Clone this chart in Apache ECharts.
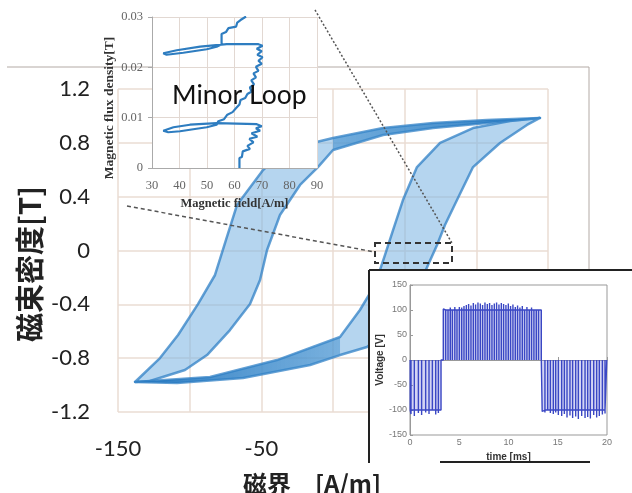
<!DOCTYPE html>
<html>
<head>
<meta charset="utf-8">
<script src="https://cdn.jsdelivr.net/npm/echarts@6/dist/echarts.min.js"></script>
<style>
  html, body { margin: 0; padding: 0; background: #fff; }
  #chart { width: 632px; height: 493px; }
</style>
</head>
<body>
<div id="chart"></div>
<script>
// main B-H loop, outline of the descending band (H [A/m], B [T])
const descOuter = [[144.4,0.985],[107.4,0.970],[69.8,0.947],[34.9,0.910],[0,0.836],[-23.0,0.776],[-33.5,0.747],
  [-48.8,0.598],[-67.0,0.338],[-74.7,0.078],[-82.3,-0.182],[-94.2,-0.398],[-108.1,-0.628],[-120.7,-0.799],[-138.1,-0.977]];
const descInner = [[-127.7,-0.970],[-103.3,-0.888],[-87.9,-0.777],[-71.9,-0.591],[-57.9,-0.398],[-50.9,-0.219],
  [-46.0,0.004],[-37.0,0.264],[-23.0,0.487],[-10.5,0.620],[0,0.747],[34.9,0.858],[69.8,0.910],[107.4,0.947]];
// ascending band
const ascOuter = [[-138.1,-0.977],[-108.8,-0.985],[-62.8,-0.948],[-16.0,-0.851],[4.9,-0.777],[23.7,-0.717],[43.3,-0.554],
  [57.2,-0.331],[66.3,-0.108],[72.6,0.041],[78.1,0.189],[86.5,0.375],[97.7,0.620],[116.5,0.799],[135.3,0.933],[144.4,0.985]];
const ascInner = [[123.5,0.962],[97.7,0.910],[74.7,0.799],[58.6,0.620],[48.8,0.375],[41.9,0.152],[36.3,-0.033],
  [29.3,-0.256],[18.8,-0.442],[4.9,-0.643],[-39.1,-0.814],[-85.8,-0.940]];

// minor loop inset (H, B)
const minorLoop = [[61.8,0],[61.8,0.0020],[62.7,0.0022],[63.0,0.0033],[65.6,0.0038],[64.7,0.0044],[66.9,0.0051],
  [65.4,0.0058],[68.3,0.0062],[66.2,0.0069],[69.3,0.0074],[67.8,0.0079],[69.9,0.0083],[68.1,0.0087],[53.5,0.0089],
  [43.8,0.0086],[37.8,0.0081],[34.1,0.0074],[35.9,0.0071],[40.2,0.0073],[45.0,0.0077],[49.9,0.0081],[53.5,0.0086],
  [54.1,0.0093],[56.2,0.0097],[57.4,0.0106],[59.3,0.0111],[60.6,0.0119],[61.8,0.0126],[62.2,0.0135],[63.9,0.0139],
  [64.7,0.0147],[66.2,0.0152],[65.6,0.0160],[67.1,0.0166],[66.1,0.0174],[67.8,0.0180],[66.9,0.0188],[68.7,0.0193],
  [67.8,0.0201],[69.9,0.0207],[68.7,0.0213],[70.2,0.0220],[68.3,0.0225],[69.9,0.0232],[68.1,0.0237],[70.2,0.0243],
  [68.7,0.0246],[57.2,0.0246],[47.5,0.0241],[39.0,0.0234],[34.1,0.0228],[35.3,0.0225],[41.4,0.0229],[49.9,0.0236],
  [53.5,0.0241],[55.3,0.0246],[55.3,0.0266],[56.9,0.0270],[57.8,0.0278],[60.6,0.0281],[61.0,0.0289],[62.2,0.0294],[64.2,0.0301]];

// voltage inset: switching instants [ms] and spike values [V] per half period
const negTimesA = [0.02, 0.10, 0.44, 0.85, 1.18, 1.59, 1.93, 2.27, 2.61, 2.88, 3.15];
const negPeaksA = [-100, -108, -112, -106, -110, -105, -108, -104, -109, -106, -104];
const posTimes = [3.38, 3.62, 3.86, 4.09, 4.30, 4.55, 4.77, 5.01, 5.25, 5.48, 5.72, 5.95, 6.19, 6.43, 6.66, 6.90,
  7.14, 7.37, 7.61, 7.85, 8.08, 8.32, 8.56, 8.79, 9.03, 9.27, 9.50, 9.74, 9.98, 10.21, 10.45, 10.69, 10.92, 11.16,
  11.40, 11.63, 11.87, 12.11, 12.34, 12.58, 12.82, 13.05, 13.33];
const posPeaks = [102, 104, 103, 105, 104, 106, 104, 106, 105, 108, 110, 112, 109, 114, 111, 115, 113, 110, 115, 112,
  114, 110, 113, 115, 111, 114, 112, 110, 113, 108, 111, 106, 109, 105, 108, 104, 106, 103, 105, 102, 104, 101, 103];
const negTimesB = [13.42, 13.70, 13.98, 14.25, 14.55, 14.79, 15.06, 15.40, 15.67, 15.94, 16.24, 16.51, 16.82, 17.09,
  17.43, 17.77, 18.04, 18.31, 18.65, 18.95, 19.22, 19.53, 19.80, 19.98];
const negPeaksB = [-103, -105, -104, -106, -108, -105, -110, -112, -108, -115, -111, -116, -113, -118, -112, -116,
  -114, -117, -110, -115, -112, -109, -107, -104];

function pulses(times, peaks, level) {
  let pts = [];
  times.forEach((t, i) => {
    if (i === 0) pts.push([t, 0], [t, peaks[i]], [t, level]);
    else if (i === times.length - 1) pts.push([t, level], [t, peaks[i]], [t, 0]);
    else pts.push([t, level], [t, peaks[i]], [t, 0], [t, level]);
  });
  return pts;
}
const voltage = pulses(negTimesA, negPeaksA, -100)
  .concat(pulses(posTimes, posPeaks, 100))
  .concat(pulses(negTimesB, negPeaksB, -100));

// wide band light, the narrow saturated branch drawn darker on top
function band(pts, thin, darkAtRight) {
  return {
    type: 'custom', xAxisIndex: 0, yAxisIndex: 0, z: 2, silent: true, data: [0],
    renderItem: (params, api) => {
      const dark = new echarts.graphic.LinearGradient(0, 0, 1, 0, darkAtRight
        ? [{ offset: 0, color: 'rgba(60,140,205,0.55)' }, { offset: 1, color: 'rgba(36,118,190,0.95)' }]
        : [{ offset: 0, color: 'rgba(36,118,190,0.95)' }, { offset: 1, color: 'rgba(60,140,205,0.5)' }]);
      return {
        type: 'group',
        children: [
          { type: 'polygon', shape: { points: pts.map(p => api.coord(p)) },
            style: { fill: 'rgba(128,183,228,0.58)', stroke: 'rgba(48,128,198,0.75)', lineWidth: 2.5, lineJoin: 'round' } },
          { type: 'polygon', shape: { points: thin.map(p => api.coord(p)) },
            style: { fill: dark, stroke: 'none' } }
        ]
      };
    }
  };
}

const myChart = echarts.init(document.getElementById('chart'));
const grid0 = '#eadcd3';
let option = {
  animation: false,
  grid: [
    { left: 118, top: 89, width: 430, height: 323, z: 0 },
    { left: 152, top: 17, width: 165, height: 151, z: 10 },
    { left: 410, top: 285, width: 197, height: 150, show: true, backgroundColor: '#fff', borderColor: '#999', borderWidth: 1, z: 10 }
  ],
  xAxis: [
    {
      gridIndex: 0, type: 'value', min: -150, max: 150, interval: 50,
      axisLine: { show: false }, axisTick: { show: false },
      splitLine: { lineStyle: { color: grid0, width: 1.5 } },
      axisLabel: { margin: 26, fontSize: 22, color: '#222', fontFamily: 'Lato',
        formatter: v => ((v + 150) % 100 === 0 ? String(v) : '') }
    },
    {
      gridIndex: 1, type: 'value', min: 30, max: 90, interval: 10, z: 11,
      name: 'Magnetic field[A/m]', nameLocation: 'middle', nameGap: 29,
      nameTextStyle: { fontFamily: 'Liberation Serif', fontWeight: 'bold', fontSize: 12.5, color: '#333' },
      axisLine: { lineStyle: { color: '#aaa' } }, axisTick: { show: false },
      splitLine: { lineStyle: { color: '#e2d8d2' } },
      axisLabel: { margin: 11, fontSize: 12.5, color: '#666', fontFamily: 'Liberation Serif' }
    },
    {
      gridIndex: 2, type: 'value', min: 0, max: 20, interval: 5, z: 11,
      name: 'time [ms]', nameLocation: 'middle', nameGap: 17,
      nameTextStyle: { fontFamily: 'Liberation Sans', fontWeight: 'bold', fontSize: 10, color: '#333' },
      axisLine: { lineStyle: { color: '#999' } }, axisTick: { inside: true, length: 3, lineStyle: { color: '#999' } },
      splitLine: { show: false },
      axisLabel: { margin: 3, fontSize: 9, color: '#777', fontFamily: 'Liberation Sans' }
    }
  ],
  yAxis: [
    {
      gridIndex: 0, type: 'value', min: -1.2, max: 1.2, interval: 0.4,
      axisLine: { show: false }, axisTick: { show: false },
      splitLine: { lineStyle: { color: grid0, width: 1.5 } },
      axisLabel: { margin: 28, fontSize: 22, color: '#222', fontFamily: 'Lato',
        formatter: v => String(Number(v.toFixed(1))) }
    },
    {
      gridIndex: 1, type: 'value', min: 0, max: 0.03, interval: 0.01, z: 11,
      axisLine: { show: true, lineStyle: { color: '#aaa' } }, axisTick: { show: true, length: 4, lineStyle: { color: '#aaa' } },
      splitLine: { lineStyle: { color: '#e2d8d2' } },
      axisLabel: { margin: 9, fontSize: 12.5, color: '#666', fontFamily: 'Liberation Serif',
        formatter: v => (v === 0 ? '0' : v.toFixed(2)) }
    },
    {
      gridIndex: 2, type: 'value', min: -150, max: 150, interval: 50, z: 11,
      name: 'Voltage [V]', nameLocation: 'middle', nameGap: 25, nameRotate: 90,
      nameTextStyle: { fontFamily: 'Liberation Sans', fontWeight: 'bold', fontSize: 10, color: '#333' },
      axisLine: { show: true, lineStyle: { color: '#999' } }, axisTick: { inside: true, length: 3, lineStyle: { color: '#999' } },
      splitLine: { show: false },
      axisLabel: { margin: 3, fontSize: 9, color: '#777', fontFamily: 'Liberation Sans' }
    }
  ],
  graphic: [
    // chart frame of the main plot
    { type: 'line', z: 1, shape: { x1: 7, y1: 67, x2: 589, y2: 67 }, style: { stroke: '#b3aaa5', lineWidth: 1 } },
    { type: 'line', z: 1, shape: { x1: 589, y1: 67, x2: 589, y2: 272 }, style: { stroke: '#b3aaa5', lineWidth: 1 } },
    // axis titles of the main plot
    { type: 'text', z: 3, x: 30, y: 264, rotation: Math.PI / 2,
      style: { text: '磁束密度[T]', font: 'bold 29px "Noto Sans CJK JP"', fill: '#222', align: 'center', verticalAlign: 'middle' } },
    { type: 'text', z: 3, x: 312, y: 484,
      style: { text: '磁界　[A/m]', font: 'bold 24px "Noto Sans CJK JP"', fill: '#222', align: 'center', verticalAlign: 'middle' } },
    // minor loop inset background and its y title
    { type: 'rect', z: 5, shape: { x: 152, y: 17, width: 165, height: 151 }, style: { fill: '#fff' } },
    { type: 'text', z: 30, x: 110, y: 108, rotation: Math.PI / 2,
      style: { text: 'Magnetic flux density[T]', font: 'bold 13.5px "Liberation Serif"', fill: '#333', align: 'center', verticalAlign: 'middle' } },
    // voltage inset panel
    { type: 'rect', z: 8, shape: { x: 368, y: 270, width: 264, height: 193 }, style: { fill: '#fff' } },
    { type: 'line', z: 20, shape: { x1: 369, y1: 270, x2: 632, y2: 270 }, style: { stroke: '#222', lineWidth: 2 } },
    { type: 'line', z: 20, shape: { x1: 369, y1: 270, x2: 369, y2: 463 }, style: { stroke: '#222', lineWidth: 2 } },
    { type: 'line', z: 20, shape: { x1: 440, y1: 462, x2: 590, y2: 462 }, style: { stroke: '#222', lineWidth: 2 } },
    // zoom markers
    { type: 'rect', z: 20, shape: { x: 375, y: 243, width: 77, height: 20 },
      style: { fill: 'none', stroke: '#333', lineWidth: 2, lineDash: [6, 4] } },
    { type: 'line', z: 20, shape: { x1: 315, y1: 10, x2: 452, y2: 243 }, style: { stroke: '#555', lineWidth: 1.5, lineDash: [2, 2] } },
    { type: 'line', z: 20, shape: { x1: 127, y1: 206, x2: 375, y2: 252 }, style: { stroke: '#555', lineWidth: 1.5, lineDash: [4, 3] } },
    // label in minor loop inset
    { type: 'text', z: 30, x: 172, y: 95,
      style: { text: 'Minor Loop', font: '26.5px Lato', fill: '#111', align: 'left', verticalAlign: 'middle' } }
  ],
  series: [
    band(descOuter.concat(descInner), descOuter.slice(0, 5).concat(descInner.slice(-4)), true),
    band(ascOuter.concat(ascInner), ascOuter.slice(0, 5).concat(ascInner.slice(-3)), false),
    {
      type: 'line', xAxisIndex: 1, yAxisIndex: 1, z: 12, data: minorLoop, symbol: 'none',
      lineStyle: { color: '#2e7dc0', width: 2.2 }
    },
    {
      type: 'line', xAxisIndex: 2, yAxisIndex: 2, z: 12, data: voltage, symbol: 'none',
      lineStyle: { color: '#3a47c4', width: 1.4 },
      areaStyle: { color: 'rgba(115,120,220,0.45)', origin: 'auto' },
      markLine: { silent: true, symbol: 'none', label: { show: false },
        lineStyle: { color: '#3a47c4', type: 'solid', width: 1.5 }, data: [{ yAxis: 0 }] }
    }
  ]
};
myChart.setOption(option);
</script>
</body>
</html>
